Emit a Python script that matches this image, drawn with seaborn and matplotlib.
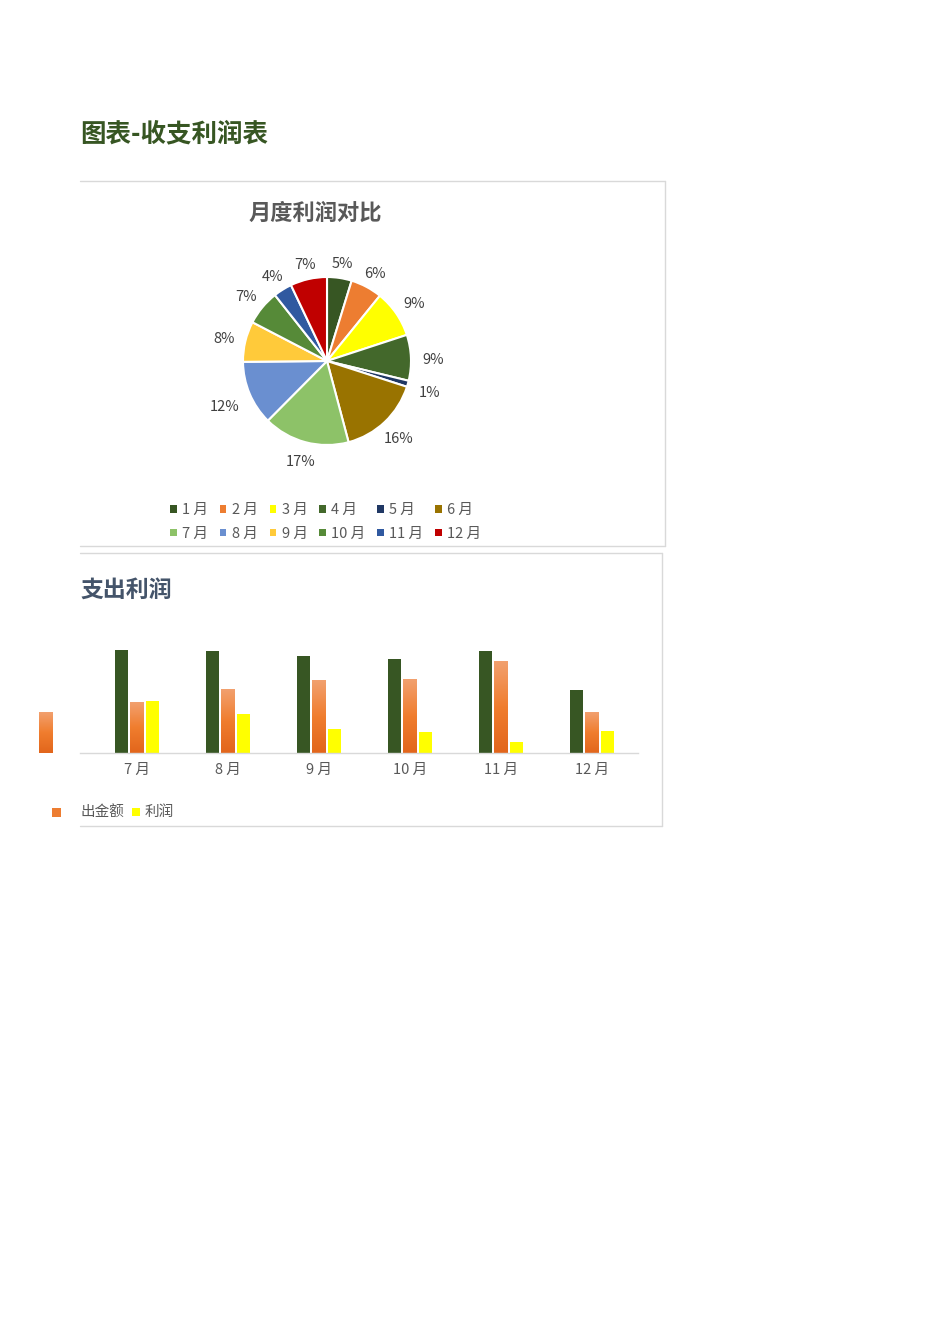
import numpy as np
import pandas as pd
import matplotlib
matplotlib.use('Agg')
import matplotlib.pyplot as plt
import seaborn as sns
from matplotlib.patches import Patch, Rectangle
from matplotlib.lines import Line2D
from matplotlib.colors import LinearSegmentedColormap

# ---------------- data ----------------
months = ['1 月', '2 月', '3 月', '4 月', '5 月', '6 月',
          '7 月', '8 月', '9 月', '10 月', '11 月', '12 月']
income = [9000, 9300, 10100, 10000, 8600, 8990, 10270, 10230, 9700, 9430, 10230, 6300]
expense = [7520, 7400, 7250, 7250, 8230, 4030, 5100, 6360, 7270, 7330, 9110, 4100]
profit = [1480, 1900, 2850, 2750, 370, 4960, 5170, 3870, 2430, 2100, 1120, 2200]
series_names = ['收入金额', '支出金额', '利润']

pie_colors = ['#375623', '#ED7D31', '#FFFF00', '#43682B', '#203864', '#997300',
              '#8DC268', '#6A8FD0', '#FFCA3A', '#568A38', '#3059A0', '#C00000']
bar_colors = ['#375623', '#ED7D31', '#FFFF00']

# ---------------- setup ----------------
sns.set_theme(style='white')
plt.rcParams['font.family'] = ['Noto Sans CJK SC', 'DejaVu Sans']

W, H = 950, 1344
fig = plt.figure(figsize=(W / 100, H / 100), dpi=100)
fig.patch.set_facecolor('white')


def fx(x):
    return x / W


def fy(y):
    return 1 - y / H


fig.text(fx(80), fy(134), '图表-收支利润表', fontsize=18.4, fontweight='bold',
         color='#375623', va='center', ha='left')


def box(x0, y0, x1, y1):
    for xs, ys in [((x0, x1), (y0, y0)), ((x1, x1), (y0, y1)), ((x0, x1), (y1, y1))]:
        fig.add_artist(Line2D([fx(v) for v in xs], [fy(v) for v in ys],
                              color='#D9D9D9', lw=1))


box(80, 180.5, 665, 546)
box(80, 552.5, 662, 826)

# ---------------- pie ----------------
fig.text(fx(315), fy(213), '月度利润对比', fontsize=16, fontweight='bold',
         color='#595959', ha='center', va='center')

cx, cy, r = 327, 361, 84
axp = fig.add_axes([fx(cx - r), fy(cy + r), 2 * r / W, 2 * r / H])
wedges, _, autotexts = axp.pie(profit, colors=pie_colors, startangle=90, counterclock=False,
                               autopct='%.0f%%', pctdistance=1.2,
                               wedgeprops=dict(edgecolor='white', linewidth=1.5),
                               textprops=dict(fontsize=10.5, color='#404040',
                                              ha='center', va='center'))
axp.set_xlim(-1, 1)
axp.set_ylim(-1, 1)
axp.axis('off')

# outside-end label placement: label box just outside the wedge edge
renderer = fig.canvas.get_renderer()
gap = 11.0
for wdg, t in zip(wedges, autotexts):
    ang = np.deg2rad((wdg.theta1 + wdg.theta2) / 2)
    ux, uy = np.cos(ang), np.sin(ang)
    bb = t.get_window_extent(renderer)
    hw, hh = bb.width / 2, bb.height / 2 * 0.9
    cand = []
    if abs(ux) > 1e-6:
        cand.append(hw / abs(ux))
    if abs(uy) > 1e-6:
        cand.append(hh / abs(uy))
    d = (r + gap + min(cand)) / r
    t.set_position((d * ux, d * uy - 3 / r))

handles = [Patch(facecolor=c, edgecolor='none') for c in pie_colors]
order = [0, 6, 1, 7, 2, 8, 3, 9, 4, 10, 5, 11]
leg = fig.legend([handles[i] for i in order], [months[i] for i in order], ncol=6,
                 loc='upper left', bbox_to_anchor=(fx(170), fy(503)), frameon=False,
                 fontsize=10.5, handlelength=0.45, handleheight=0.45, handletextpad=0.38,
                 columnspacing=0.8, labelspacing=0.66, borderpad=0, borderaxespad=0)
for t in leg.get_texts():
    t.set_color('#595959')

# ---------------- bars ----------------
fig.text(fx(80), fy(590), '支出利润', fontsize=16.5, fontweight='bold',
         color='#44546A', ha='left', va='center')

axb = fig.add_axes([fx(80), fy(753), 558 / W, 133 / H])
df = pd.DataFrame({
    '月份': months * 3,
    '系列': [s for s in series_names for _ in months],
    '金额': income + expense + profit,
})
sns.barplot(data=df, x='月份', y='金额', hue='系列', order=months, hue_order=series_names,
            palette=bar_colors, width=0.5, gap=0.14, ax=axb, legend=False,
            saturation=1, linewidth=0, errorbar=None)

cmap = LinearSegmentedColormap.from_list('og', ['#E2661C', '#F07D2E', '#F2A06E'])
grad = np.linspace(0, 1, 64).reshape(-1, 1)
for bar in axb.containers[1]:
    bar.set_clip_on(False)
    x, w, h = bar.get_x(), bar.get_width(), bar.get_height()
    axb.imshow(grad, extent=[x, x + w, 0, h], aspect='auto', cmap=cmap,
               origin='lower', zorder=2, clip_on=False, interpolation='bilinear')

axb.set_xlim(6 - 57 / 91, 6 + 501 / 91)
axb.set_ylim(0, 13300)
for s in ['top', 'left', 'right']:
    axb.spines[s].set_visible(False)
axb.spines['bottom'].set_color('#D9D9D9')
axb.spines['bottom'].set_linewidth(1)
axb.set_yticks([])
axb.set_xlabel('')
axb.set_ylabel('')
axb.tick_params(axis='x', length=0, pad=7, labelsize=10.5, labelcolor='#595959')
axb.set_facecolor('none')

# bar legend (partially visible)
fig.patches.append(Rectangle((fx(52), fy(817)), 9 / W, 9 / H, transform=fig.transFigure,
                             facecolor='#ED7D31', edgecolor='none'))
fig.text(fx(80), fy(812), '出金额', fontsize=10.5, color='#595959', ha='left', va='center')
fig.patches.append(Rectangle((fx(132), fy(816)), 8 / W, 8 / H, transform=fig.transFigure,
                             facecolor='#FFFF00', edgecolor='none'))
fig.text(fx(145), fy(812), '利润', fontsize=10.5, color='#595959', ha='left', va='center')

fig.savefig('out.png', dpi=100)
